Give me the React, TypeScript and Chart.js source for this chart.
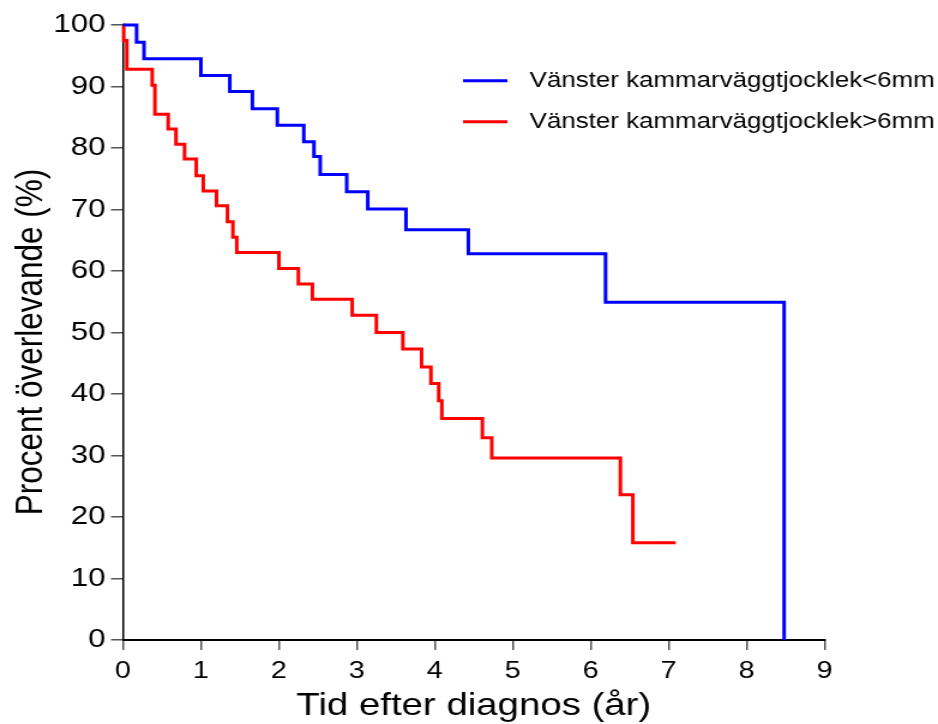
import React, { useEffect, useRef } from 'react';
import { Chart, registerables } from 'chart.js';

Chart.register(...registerables);

// ---- data ----
const seriesLabels = ['Vänster kammarväggtjocklek<6mm', 'Vänster kammarväggtjocklek>6mm'];
const seriesColors = ['#0000FF', '#FF0000'];

const blueTimes = [0, 0.175, 0.27, 1.0, 1.37, 1.66, 1.98, 2.32, 2.45, 2.53, 2.87, 3.14, 3.63, 4.43, 6.19, 8.48];
const blueSurvival = [100, 97.2, 94.5, 91.8, 89.2, 86.4, 83.7, 81.0, 78.6, 75.7, 72.9, 70.1, 66.7, 62.8, 54.9, 0];

const redTimes = [0, 0.01, 0.05, 0.375, 0.41, 0.58, 0.68, 0.79, 0.94, 1.03, 1.2, 1.34, 1.41, 1.46, 2.0, 2.25, 2.43, 2.94, 3.25, 3.59, 3.83, 3.95, 4.05, 4.09, 4.61, 4.73, 6.38, 6.54, 7.09];
const redSurvival = [100, 97.5, 92.8, 90.2, 85.5, 83.1, 80.6, 78.2, 75.5, 73.0, 70.6, 68.0, 65.5, 63.0, 60.4, 57.9, 55.4, 52.8, 50.0, 47.3, 44.4, 41.7, 38.9, 36.0, 32.9, 29.6, 23.6, 15.8, 15.8];

const xTickValues = [0, 1, 2, 3, 4, 5, 6, 7, 8, 9];
const yTickValues = [0, 10, 20, 30, 40, 50, 60, 70, 80, 90, 100];

const xTitle = 'Tid efter diagnos (år)';
const yTitle = 'Procent överlevande (%)';

// ---- presentation ----
const PAGE_W = 938;
const PAGE_H = 724;
const STRETCH = 1.2; // the reference is horizontally stretched
const CANVAS_W = Math.round(PAGE_W / STRETCH);
const FONT = '"Liberation Sans", Arial, Helvetica, sans-serif';

const toPoints = (xs: number[], ys: number[]) => xs.map((x, i) => ({ x, y: ys[i] }));

const legendPlugin = {
  id: 'kmLegend',
  afterDatasetsDraw(chart: any) {
    const ctx = chart.ctx as CanvasRenderingContext2D;
    const lineY = [80.7, 121.7];
    const textBase = [86.8, 127.8];
    ctx.save();
    chart.data.datasets.forEach((ds: any, i: number) => {
      ctx.strokeStyle = ds.borderColor;
      ctx.lineWidth = 3;
      ctx.beginPath();
      ctx.moveTo(386, lineY[i]);
      ctx.lineTo(423, lineY[i]);
      ctx.stroke();
      ctx.fillStyle = '#000';
      ctx.font = `21.6px ${FONT}`;
      ctx.textAlign = 'left';
      ctx.textBaseline = 'alphabetic';
      ctx.fillText(ds.label, 441.5, textBase[i]);
    });
    // y-axis title
    ctx.translate(34.5, 342);
    ctx.rotate(-Math.PI / 2);
    ctx.font = `31.5px ${FONT}`;
    ctx.textAlign = 'center';
    ctx.textBaseline = 'alphabetic';
    ctx.fillText(yTitle, 0, 0);
    ctx.restore();
  },
};

export default function App() {
  const ref = useRef<HTMLCanvasElement | null>(null);

  useEffect(() => {
    if (!ref.current) return;
    const chart = new Chart(ref.current, {
      type: 'line',
      data: {
        datasets: [
          {
            label: seriesLabels[0],
            data: toPoints(blueTimes, blueSurvival),
            borderColor: seriesColors[0],
            backgroundColor: seriesColors[0],
            borderWidth: 3,
            pointRadius: 0,
            stepped: 'before',
            fill: false,
            clip: false as any,
          },
          {
            label: seriesLabels[1],
            data: toPoints(redTimes, redSurvival),
            borderColor: seriesColors[1],
            backgroundColor: seriesColors[1],
            borderWidth: 3,
            pointRadius: 0,
            stepped: 'before',
            fill: false,
            clip: false as any,
          },
        ],
      },
      options: {
        animation: false,
        responsive: false,
        devicePixelRatio: 1,
        layout: { padding: { left: 0, top: 25, right: CANVAS_W - 687.5, bottom: 0 } },
        plugins: { legend: { display: false }, tooltip: { enabled: false } },
        scales: {
          x: {
            type: 'linear',
            min: 0,
            max: 9,
            afterBuildTicks: (s: any) => {
              s.ticks = xTickValues.map((v) => ({ value: v }));
            },
            afterFit: (s: any) => {
              s.height = PAGE_H - 640;
            },
            ticks: {
              color: '#000',
              font: { family: FONT, size: 24 },
              padding: 7,
              maxRotation: 0,
              autoSkip: false,
            },
            grid: { drawOnChartArea: false, drawTicks: true, tickLength: 10, color: '#555', lineWidth: 1.5 },
            border: { display: true, color: '#000', width: 2 },
            title: {
              display: true,
              text: xTitle,
              color: '#000',
              font: { family: FONT, size: 32, lineHeight: 1.1 },
              padding: { top: 0, bottom: 0 },
            },
          },
          y: {
            type: 'linear',
            min: 0,
            max: 100,
            afterBuildTicks: (s: any) => {
              s.ticks = yTickValues.map((v) => ({ value: v }));
            },
            afterFit: (s: any) => {
              s.width = 102.5;
            },
            ticks: {
              color: '#000',
              font: { family: FONT, size: 26 },
              padding: 4.5,
              autoSkip: false,
            },
            grid: { drawOnChartArea: false, drawTicks: true, tickLength: 10, color: '#555', lineWidth: 1.5 },
            border: { display: true, color: '#000', width: 1.5 },
            title: { display: false, text: yTitle },
          },
        },
      },
      plugins: [legendPlugin],
    } as any);
    return () => chart.destroy();
  }, []);

  return (
    <div style={{ position: 'absolute', left: 0, top: 0, width: PAGE_W, height: PAGE_H, background: '#fff' }}>
      <canvas
        ref={ref}
        width={CANVAS_W}
        height={PAGE_H}
        style={{ display: 'block', width: PAGE_W, height: PAGE_H }}
      />
    </div>
  );
}
